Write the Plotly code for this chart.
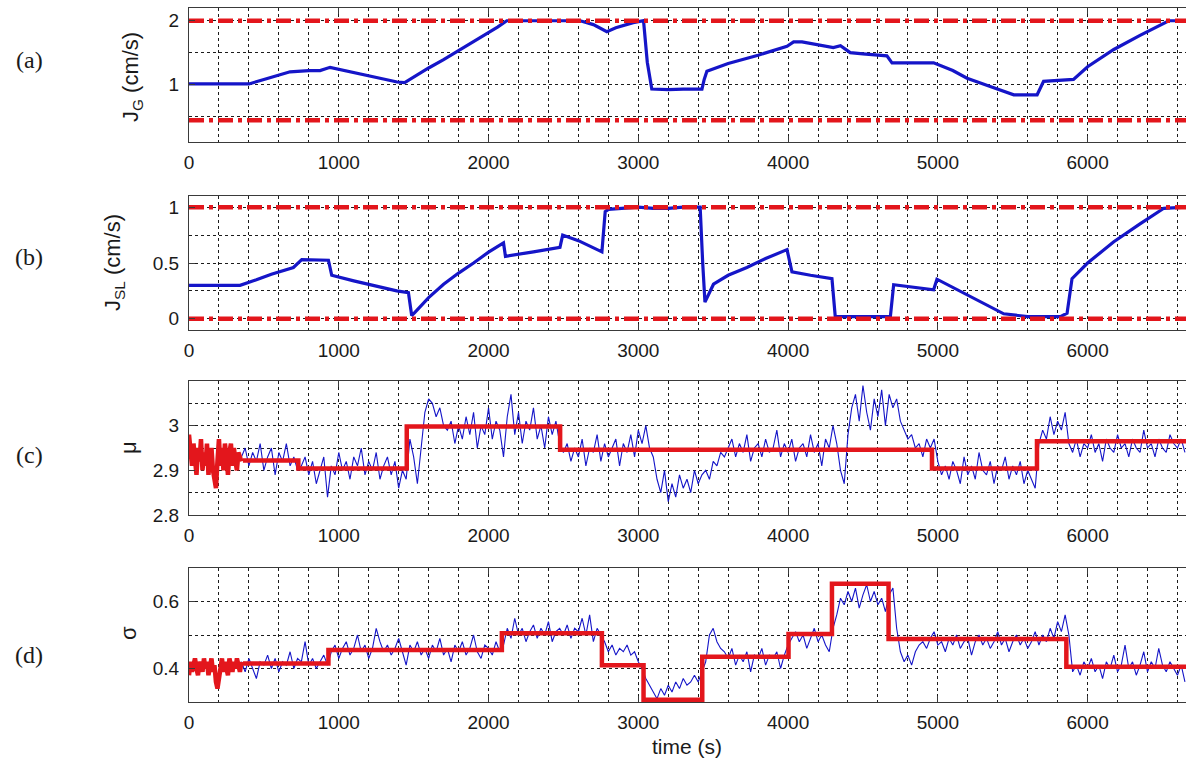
import numpy as np
import plotly.graph_objects as go

# ---------------- data ----------------
T_MAX = 6657

# (a) J_G (cm/s)
jg_t = [0, 60, 400, 500, 600, 675, 800, 875, 942, 1000, 1100, 1200, 1300, 1390, 1440,
        1460, 1500, 1600, 1700, 1800, 1900, 2000, 2060, 2122, 2300, 2500, 2612, 2700,
        2790, 2850, 2966, 3035, 3060, 3090, 3200, 3300, 3425, 3440, 3458, 3600, 3800,
        3993, 4037, 4093, 4200, 4302, 4350, 4415, 4500, 4660, 4694, 4800, 4972, 5100,
        5195, 5350, 5507, 5600, 5663, 5706, 5800, 5885, 5906, 6000, 6175, 6350, 6542, 6657]
jg_v = [1.01, 1.01, 1.01, 1.08, 1.15, 1.20, 1.22, 1.22, 1.27, 1.24, 1.19, 1.14, 1.09, 1.04, 1.03,
        1.06, 1.12, 1.26, 1.39, 1.53, 1.67, 1.81, 1.90, 2.00, 2.00, 2.00, 2.00, 1.94,
        1.83, 1.89, 1.97, 2.00, 1.35, 0.93, 0.92, 0.93, 0.93, 1.08, 1.21, 1.33, 1.46,
        1.60, 1.67, 1.67, 1.62, 1.58, 1.61, 1.50, 1.48, 1.45, 1.34, 1.34, 1.34, 1.22,
        1.10, 0.97, 0.84, 0.84, 0.84, 1.05, 1.06, 1.08, 1.08, 1.28, 1.55, 1.77, 2.00, 2.00]
jg_limits = [2.0, 0.44]

# (b) J_SL (cm/s)
jsl_t = [0, 341, 450, 550, 697, 753, 931, 953, 1100, 1250, 1387, 1465, 1487, 1510, 1600,
         1700, 1800, 1900, 2000, 2100, 2113, 2300, 2477, 2495, 2600, 2757, 2779, 2800, 2900,
         3000, 3100, 3200, 3300, 3413, 3430, 3445, 3502, 3600, 3725, 3850, 3993, 4026, 4150,
         4293, 4315, 4450, 4600, 4683, 4705, 4850, 4972, 4994, 5100, 5250, 5440, 5600, 5818,
         5863, 5896, 6000, 6175, 6350, 6509, 6657]
jsl_v = [0.30, 0.30, 0.35, 0.40, 0.46, 0.53, 0.525, 0.39, 0.34, 0.29, 0.25, 0.235, 0.03, 0.06, 0.19,
         0.31, 0.41, 0.50, 0.597, 0.68, 0.56, 0.60, 0.64, 0.75, 0.70, 0.60, 0.96, 0.98, 0.99,
         1.00, 0.99, 0.99, 1.00, 1.00, 0.50, 0.15, 0.31, 0.39, 0.46, 0.54, 0.62, 0.42, 0.39,
         0.36, 0.02, 0.02, 0.02, 0.02, 0.305, 0.28, 0.26, 0.355, 0.28, 0.18, 0.045, 0.02, 0.02,
         0.05, 0.36, 0.50, 0.69, 0.85, 0.99, 1.00]
jsl_limits = [1.0, 0.0]

# (c) mu : noisy signal sampled every 25 s from 350 s
mu_t0, mu_dt = 350, 25
mu_blue = [
    2.93, 2.95, 2.91, 2.94, 2.92, 2.96, 2.90, 2.93, 2.95, 2.89, 2.94, 2.92, 2.96, 2.91, 2.93, 2.90,
    2.91, 2.93, 2.89, 2.92, 2.87, 2.90, 2.93, 2.84, 2.91, 2.89, 2.94, 2.90, 2.92, 2.88, 2.93, 2.91,
    2.95, 2.89, 2.92, 2.90, 2.94, 2.88, 2.91, 2.93, 2.89, 2.92, 2.86, 2.90,
    2.88, 2.97, 2.93, 2.87, 2.95,
    3.03, 3.06, 3.05, 3.02, 3.04, 3.00,
    2.99, 3.01, 2.96, 3.00, 2.97, 3.02, 2.98, 3.03, 2.95, 3.00, 2.98, 3.04, 2.97, 3.01, 2.99, 2.93,
    3.02, 3.07, 2.98, 3.03, 2.96, 3.01, 2.99, 3.04, 2.97, 3.00, 2.95, 3.02, 2.98, 3.01, 2.96,
    2.94, 2.96, 2.92, 2.95, 2.93, 2.97, 2.91, 2.95, 2.94, 2.98, 2.92, 2.96, 2.93, 2.95, 2.97, 2.91,
    2.96, 2.94, 2.98, 2.93, 2.99, 2.96, 3.00, 2.95, 2.93,
    2.88, 2.85, 2.90, 2.83, 2.87, 2.84, 2.89, 2.86, 2.88, 2.85, 2.90, 2.87, 2.89,
    2.90, 2.88, 2.92, 2.91, 2.94, 2.93,
    2.95, 2.97, 2.93, 2.96, 2.94, 2.98, 2.92, 2.95, 2.96, 2.93, 2.97, 2.94, 2.95, 2.99, 2.93, 2.96,
    2.94, 2.97, 2.92, 2.95, 2.96, 2.93, 2.98, 2.94, 2.96, 2.91, 2.97, 2.95,
    3.00, 2.96, 2.90, 2.87,
    2.98, 3.04, 3.07, 3.01, 3.09, 3.03, 2.99, 3.06, 3.02, 3.08, 3.00, 3.07, 3.04, 3.06,
    3.01, 2.99, 2.97, 2.98, 2.95, 2.96, 2.93, 2.97, 2.95,
    2.97, 2.92, 2.89, 2.91, 2.88, 2.92, 2.90, 2.87, 2.93, 2.89, 2.91, 2.88, 2.94, 2.90, 2.89, 2.92,
    2.87, 2.91, 2.90, 2.93, 2.88, 2.91, 2.89, 2.92, 2.87, 2.90, 2.88, 2.86,
    2.96, 2.99, 2.97, 3.02, 2.98, 3.01, 2.99, 3.03,
    2.96, 2.94, 2.97, 2.93, 2.96, 2.95, 2.98, 2.94, 2.96, 2.92, 2.97, 2.95, 2.94, 2.98, 2.95, 2.96,
    2.93, 2.97, 2.95, 2.94, 2.99, 2.95, 2.96, 2.93, 2.97, 2.95, 2.94, 2.98, 2.96, 2.95, 2.97, 2.94,
]
# initial red noisy estimate, every 10 s from 0 s
mu_red_dt = 10
mu_red_noise = [2.98, 2.95, 2.91, 2.96, 2.93, 2.89, 2.95, 2.92, 2.97, 2.90, 2.94, 2.91, 2.96, 2.89,
                2.93, 2.95, 2.90, 2.87, 2.86, 2.92, 2.97, 2.91, 2.95, 2.90, 2.96, 2.93, 2.89, 2.94,
                2.96, 2.91, 2.95, 2.92, 2.90, 2.94, 2.93, 2.92]
mu_step_t = [360, 730, 1454, 2478, 4961, 5662, 6657]
mu_step_v = [2.922, 2.904, 2.998, 2.946, 2.904, 2.965, 2.965]

# (d) sigma
sig_blue = [
    0.42, 0.39, 0.43, 0.40, 0.37, 0.42, 0.41, 0.44, 0.40, 0.43, 0.39, 0.42, 0.41, 0.45, 0.40, 0.43,
    0.42, 0.48, 0.41, 0.43, 0.40, 0.42, 0.44, 0.41,
    0.45, 0.47, 0.43, 0.46, 0.48, 0.44, 0.46, 0.50, 0.45, 0.47, 0.43, 0.46, 0.52, 0.48, 0.45, 0.47,
    0.44, 0.46, 0.49, 0.45, 0.41, 0.47, 0.45, 0.48, 0.44, 0.46, 0.43, 0.47, 0.45, 0.49, 0.44, 0.46,
    0.42, 0.47, 0.45, 0.48, 0.44, 0.46, 0.50, 0.45, 0.43, 0.47, 0.46, 0.44, 0.48, 0.45,
    0.47, 0.52, 0.49, 0.55, 0.50, 0.52, 0.48, 0.51, 0.53, 0.49, 0.52, 0.50, 0.54, 0.48, 0.51, 0.52,
    0.50, 0.53, 0.49, 0.52, 0.51, 0.55, 0.50, 0.56, 0.48, 0.52, 0.50,
    0.48, 0.45, 0.47, 0.44, 0.46, 0.45, 0.47, 0.44, 0.45, 0.42, 0.40,
    0.37, 0.35, 0.33, 0.31, 0.34, 0.32, 0.35, 0.33, 0.36, 0.34, 0.37, 0.35, 0.36, 0.38, 0.36, 0.39,
    0.42, 0.50, 0.52, 0.48, 0.46,
    0.45, 0.43, 0.46, 0.41, 0.44, 0.42, 0.45, 0.39, 0.44, 0.43, 0.46, 0.41, 0.44, 0.43, 0.45, 0.40, 0.44,
    0.47, 0.49, 0.51, 0.48, 0.50, 0.46, 0.49, 0.52, 0.48, 0.50, 0.47, 0.45,
    0.52, 0.56, 0.61, 0.59, 0.63, 0.60, 0.64, 0.58, 0.62, 0.65, 0.60, 0.63, 0.59, 0.61, 0.57, 0.62, 0.64,
    0.52, 0.45, 0.42, 0.44, 0.41, 0.45, 0.47,
    0.48, 0.46, 0.49, 0.51, 0.47, 0.48, 0.45, 0.49, 0.47, 0.50, 0.46, 0.48, 0.49, 0.44, 0.48, 0.50,
    0.47, 0.49, 0.46, 0.48, 0.51, 0.47, 0.49, 0.45, 0.48, 0.50, 0.47, 0.49, 0.46, 0.48, 0.51, 0.47,
    0.50, 0.48, 0.52, 0.49,
    0.54, 0.51, 0.56, 0.50,
    0.39, 0.41, 0.38, 0.42, 0.40, 0.43, 0.39, 0.41, 0.37, 0.42, 0.40, 0.44, 0.39, 0.41, 0.47, 0.40,
    0.42, 0.38, 0.41, 0.45, 0.39, 0.42, 0.40, 0.46, 0.41, 0.39, 0.42, 0.40, 0.38, 0.41, 0.36,
]
sig_red_noise = [0.38, 0.42, 0.39, 0.41, 0.43, 0.40, 0.38, 0.42, 0.41, 0.39, 0.43, 0.40, 0.42, 0.38,
                 0.41, 0.43, 0.39, 0.41, 0.36, 0.34, 0.37, 0.41, 0.43, 0.39, 0.42, 0.40, 0.38, 0.43,
                 0.41, 0.39, 0.42, 0.40, 0.43, 0.41, 0.39, 0.42]
sig_step_t = [360, 931, 2089, 2757, 3035, 3427, 4003, 4293, 4671, 5858, 6657]
sig_step_v = [0.415, 0.455, 0.505, 0.41, 0.307, 0.435, 0.503, 0.653, 0.488, 0.405, 0.405]

x_ticks = [0, 1000, 2000, 3000, 4000, 5000, 6000]

# ---------------- figure ----------------
W, H = 1186, 758
BLUE = "#1515c8"
RED = "#e3161c"
DASHDOT = "15px,5px,4px,5px"

fig = go.Figure()

def sample_times(t0, dt, n):
    return [t0 + dt * i for i in range(n)]

# panel a
fig.add_trace(go.Scatter(x=jg_t, y=jg_v, mode="lines", line=dict(color=BLUE, width=3.2),
                         xaxis="x", yaxis="y"))
for lv in jg_limits:
    fig.add_trace(go.Scatter(x=[0, T_MAX], y=[lv, lv], mode="lines",
                             line=dict(color=RED, width=4.5, dash=DASHDOT), xaxis="x", yaxis="y"))
# panel b
fig.add_trace(go.Scatter(x=jsl_t, y=jsl_v, mode="lines", line=dict(color=BLUE, width=3.2),
                         xaxis="x2", yaxis="y2"))
for lv in jsl_limits:
    fig.add_trace(go.Scatter(x=[0, T_MAX], y=[lv, lv], mode="lines",
                             line=dict(color=RED, width=4.5, dash=DASHDOT), xaxis="x2", yaxis="y2"))
# panel c
fig.add_trace(go.Scatter(x=sample_times(mu_t0, mu_dt, len(mu_blue)), y=mu_blue, mode="lines",
                         line=dict(color=BLUE, width=1.1), xaxis="x3", yaxis="y3"))
fig.add_trace(go.Scatter(x=sample_times(0, mu_red_dt, len(mu_red_noise)), y=mu_red_noise, mode="lines",
                         line=dict(color=RED, width=4.5), xaxis="x3", yaxis="y3"))
fig.add_trace(go.Scatter(x=mu_step_t, y=mu_step_v, mode="lines", line_shape="hv",
                         line=dict(color=RED, width=4.5), xaxis="x3", yaxis="y3"))
# panel d
fig.add_trace(go.Scatter(x=sample_times(mu_t0, mu_dt, len(sig_blue)), y=sig_blue, mode="lines",
                         line=dict(color=BLUE, width=1.1), xaxis="x4", yaxis="y4"))
fig.add_trace(go.Scatter(x=sample_times(0, mu_red_dt, len(sig_red_noise)), y=sig_red_noise, mode="lines",
                         line=dict(color=RED, width=4.5), xaxis="x4", yaxis="y4"))
fig.add_trace(go.Scatter(x=sig_step_t, y=sig_step_v, mode="lines", line_shape="hv",
                         line=dict(color=RED, width=4.5), xaxis="x4", yaxis="y4"))

# panel boxes (pixel tops/bottoms)
boxes = [(8, 142), (196, 330), (381, 515), (568, 702)]
yranges = [[0.1, 2.2], [-0.1, 1.1], [2.8, 3.1], [0.3, 0.7]]
ytickv = [[1, 2], [0, 0.5, 1], [2.8, 2.9, 3.0], [0.4, 0.6]]
ytickt = [["1", "2"], ["0", "0.5", "1"], ["2.8", "2.9", "3"], ["0.4", "0.6"]]
yminor = [0.5, 0.25, 0.05, 0.1]

GRID = "#1c1c1c"
AX = "#3a3a3a"
TICKFONT = dict(family="Liberation Sans, Arial", size=19, color="#1a1a1a")
x0 = 189 / W

layout = dict(width=W, height=H, margin=dict(l=0, r=0, t=0, b=0), template="none",
              paper_bgcolor="white", plot_bgcolor="white", showlegend=False,
              font=dict(family="Liberation Sans, Arial", color="#1a1a1a"))

for i, (top, bot) in enumerate(boxes):
    sfx = "" if i == 0 else str(i + 1)
    dom = [1 - bot / H, 1 - top / H]
    layout["xaxis" + sfx] = dict(
        domain=[x0, 1], anchor="y" + sfx, range=[0, T_MAX], tickmode="array",
        tickvals=x_ticks, ticktext=[str(v) for v in x_ticks],
        showline=True, linecolor=AX, linewidth=1, mirror="ticks",
        ticks="inside", ticklen=6, tickcolor=AX, tickfont=TICKFONT, ticklabelstandoff=3,
        showgrid=True, gridcolor=GRID, griddash="3px,3px", gridwidth=1,
        minor=dict(dtick=200, tick0=0, showgrid=True, gridcolor=GRID, griddash="3px,3px",
                   gridwidth=1, ticks=""),
        zeroline=False, automargin=False, fixedrange=True)
    layout["yaxis" + sfx] = dict(
        domain=dom, anchor="x" + sfx, range=yranges[i], tickmode="array",
        tickvals=ytickv[i], ticktext=ytickt[i],
        showline=True, linecolor=AX, linewidth=1, mirror=False,
        ticks="inside", ticklen=6, tickcolor=AX, tickfont=TICKFONT, ticklabelstandoff=5,
        showgrid=True, gridcolor=GRID, griddash="3px,3px", gridwidth=1,
        minor=dict(dtick=yminor[i], tick0=0, showgrid=True, gridcolor=GRID, griddash="3px,3px",
                   gridwidth=1, ticks=""),
        zeroline=False, automargin=False, fixedrange=True)

fig.update_layout(**layout)

def ann(text, px, py, size, family="Liberation Sans, Arial", angle=0):
    fig.add_annotation(text=text, x=px / W, y=1 - py / H, xref="paper", yref="paper",
                       showarrow=False, textangle=angle, xanchor="center", yanchor="middle",
                       font=dict(size=size, family=family, color="#1a1a1a"))

# panel letters
for lab, py in [("(a)", 60), ("(b)", 257), ("(c)", 455), ("(d)", 655)]:
    ann(lab, 29, py, 24, family="Liberation Serif, Times New Roman")

# y titles
ann("J<sub>G</sub> (cm/s)", 132, 77, 22, angle=-90)
ann("J<sub>SL</sub> (cm/s)", 114, 262, 22, angle=-90)
ann("μ", 128, 448, 22, angle=-90)
ann("σ", 128, 633, 22, angle=-90)
# x title
ann("time (s)", 687, 746, 21)

fig.write_html("out.html")
